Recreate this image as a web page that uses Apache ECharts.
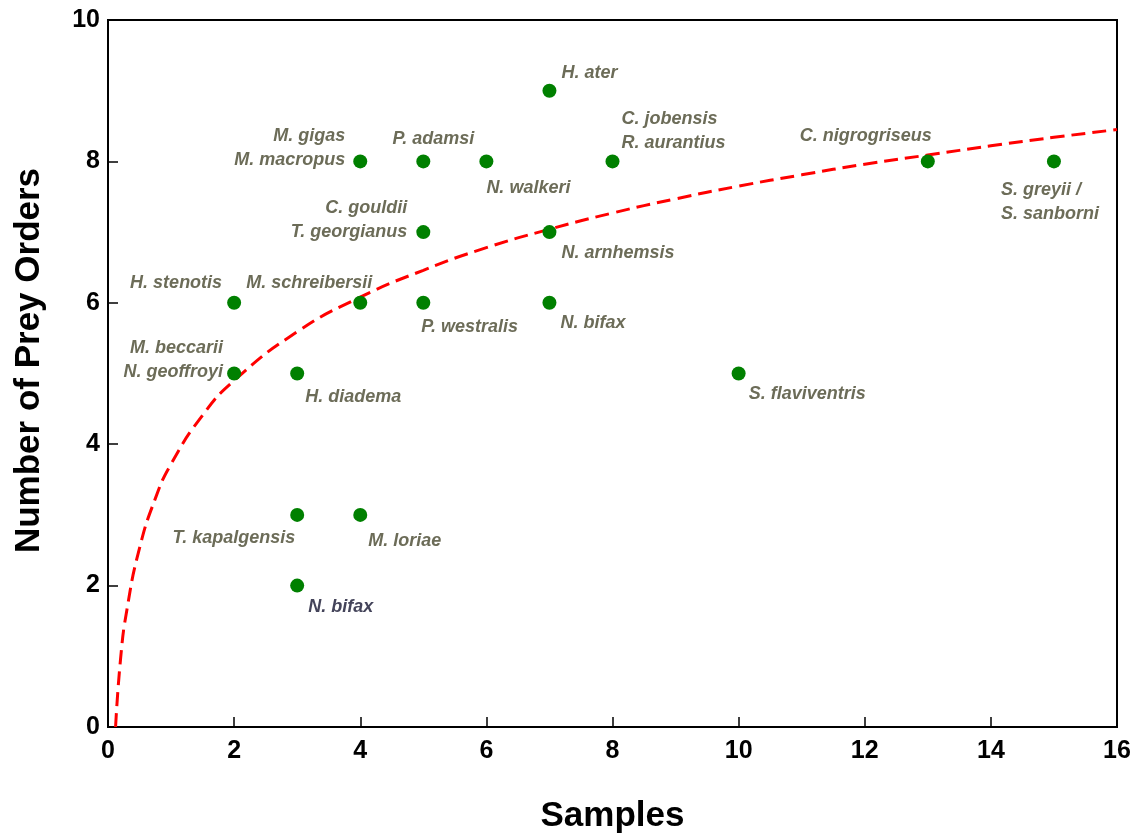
<!DOCTYPE html>
<html>
<head>
<meta charset="utf-8">
<script src="https://cdn.jsdelivr.net/npm/echarts@6/dist/echarts.min.js"></script>
<style>
  html, body { margin: 0; padding: 0; background: #ffffff; }
  #chart { width: 1137px; height: 834px; }
</style>
</head>
<body>
<div id="chart"></div>
<script>
// Species observations: number of samples vs. number of prey orders
const samples = [7, 4, 5, 6, 8, 13, 15, 5, 7, 2, 4, 5, 7, 2, 3, 10, 3, 4, 3];
const preyOrders = [9, 8, 8, 8, 8, 8, 8, 7, 7, 6, 6, 6, 6, 5, 5, 5, 3, 3, 2];
const species = [
  'H. ater',
  'M. gigas\nM. macropus',
  'P. adamsi',
  'N. walkeri',
  'C. jobensis\nR. aurantius',
  'C. nigrogriseus',
  'S. greyii /\nS. sanborni',
  'C. gouldii\nT. georgianus',
  'N. arnhemsis',
  'H. stenotis',
  'M. schreibersii',
  'P. westralis',
  'N. bifax',
  'M. beccarii\nN. geoffroyi',
  'H. diadema',
  'S. flaviventris',
  'T. kapalgensis',
  'M. loriae',
  'N. bifax'
];

// Fitted accumulation curve (dashed red), read along the trend
const curveX = [0.12, 0.2, 0.3, 0.5, 0.75, 1, 1.5, 2, 3, 4, 5, 6, 7, 8, 9, 10, 11, 12, 13, 14, 15, 16];
const curveY = [0, 0.97, 1.66, 2.53, 3.23, 3.72, 4.41, 4.9, 5.59, 6.08, 6.46, 6.78, 7.04, 7.27, 7.47, 7.65, 7.81, 7.96, 8.09, 8.22, 8.34, 8.45];

// Axis ticks
const xTicks = [0, 2, 4, 6, 8, 10, 12, 14, 16];
const yTicks = [0, 2, 4, 6, 8, 10];

// Label placement next to each dot: [align, dx, dy, colour]
const labelColour = '#6c6c58';
const labelPlacement = [
  ['left', 12, -18],
  ['right', -15, -13],
  ['center', 10, -22],
  ['left', 0, 27],
  ['left', 9, -30],
  ['center', -62, -25],
  ['left', -53, 41],
  ['right', -16, -12],
  ['left', 12, 21],
  ['right', -12, -20],
  ['center', -51, -20],
  ['left', -2, 24],
  ['left', 11, 20],
  ['right', -11, -13],
  ['left', 8, 24],
  ['left', 10, 21],
  ['right', -2, 23],
  ['left', 8, 26],
  ['left', 11, 21, '#44445a']
];

const pointData = samples.map((x, i) => {
  const p = labelPlacement[i];
  return {
    value: [x, preyOrders[i]],
    name: species[i],
    label: {
      show: true,
      position: 'inside',
      align: p[0],
      verticalAlign: 'middle',
      offset: [p[1], p[2]],
      color: p[3] || labelColour
    }
  };
});

const curveData = curveX.map((x, i) => [x, curveY[i]]);

const chart = echarts.init(document.getElementById('chart'), null, { renderer: 'canvas' });

const tickFont = {
  fontFamily: 'Liberation Sans, Arial, sans-serif',
  fontWeight: 'bold',
  fontSize: 25,
  color: '#000'
};
const titleFont = {
  fontFamily: 'Liberation Sans, Arial, sans-serif',
  fontWeight: 'bold',
  fontSize: 35,
  color: '#000'
};

chart.setOption({
  backgroundColor: '#ffffff',
  animation: false,
  grid: {
    left: 108, right: 20, top: 20, bottom: 107,
    outerBoundsMode: 'none',
    containLabel: false,
    show: true,
    borderColor: '#000',
    borderWidth: 2,
    backgroundColor: 'transparent'
  },
  xAxis: {
    type: 'value',
    min: xTicks[0],
    max: xTicks[xTicks.length - 1],
    interval: 2,
    name: 'Samples',
    nameLocation: 'middle',
    nameGap: 72,
    nameTextStyle: titleFont,
    axisLine: { show: true, onZero: false, lineStyle: { color: '#000', width: 2 } },
    axisTick: { show: true, inside: true, length: 10, lineStyle: { color: '#000', width: 1.5 } },
    axisLabel: Object.assign({ margin: 12 }, tickFont),
    splitLine: { show: false }
  },
  yAxis: {
    type: 'value',
    min: yTicks[0],
    max: yTicks[yTicks.length - 1],
    interval: 2,
    name: 'Number of Prey Orders',
    nameLocation: 'middle',
    nameGap: 61,
    nameTextStyle: Object.assign({ padding: [0, 0, 0, 26] }, titleFont),
    axisLine: { show: true, onZero: false, lineStyle: { color: '#000', width: 2 } },
    axisTick: { show: true, inside: true, length: 10, lineStyle: { color: '#000', width: 1.5 } },
    axisLabel: Object.assign({ margin: 8 }, tickFont),
    splitLine: { show: false }
  },
  series: [
    {
      type: 'line',
      data: curveData,
      smooth: true,
      showSymbol: false,
      symbol: 'none',
      lineStyle: { color: '#ff0000', width: 3, type: [14, 7] },
      z: 2
    },
    {
      type: 'scatter',
      data: pointData,
      symbol: 'circle',
      symbolSize: 14,
      itemStyle: { color: '#008000', opacity: 1 },
      label: {
        formatter: '{b}',
        fontFamily: 'Liberation Sans, Arial, sans-serif',
        fontStyle: 'italic',
        fontWeight: 'bold',
        fontSize: 18,
        lineHeight: 24
      },
      z: 3
    }
  ]
});
</script>
</body>
</html>
